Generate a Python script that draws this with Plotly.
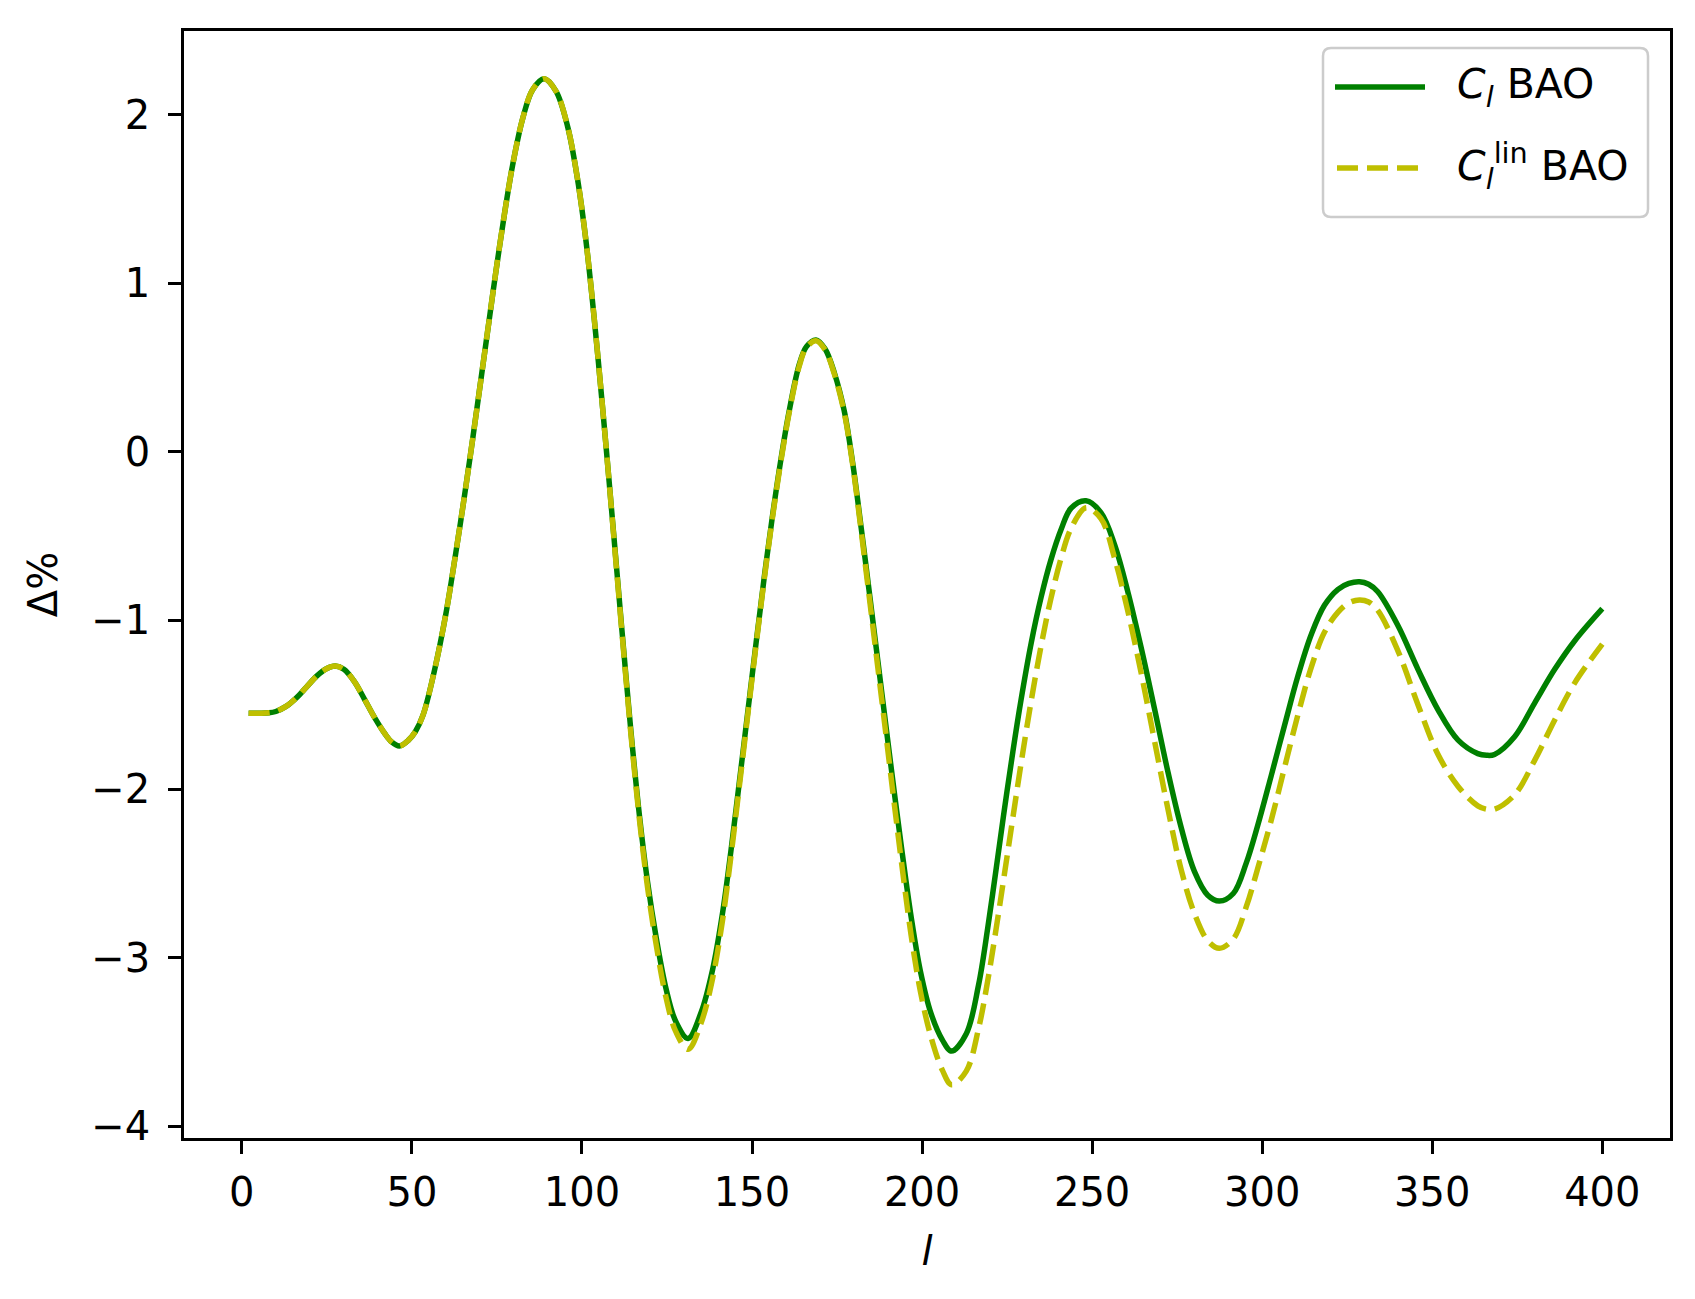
import plotly.graph_objects as go

# multipole values (shared grid)
ell = [2, 5, 8, 10, 13, 16, 19, 22, 25, 27.5,
       30, 33, 36, 39, 42, 44, 46.3, 49, 51, 53.3,
       56.6, 60, 62.9, 65.4, 67.9, 70.3, 72.7, 74.7, 77.2, 79.6,
       82.6, 85.5, 88.9, 92.4, 95.8, 98.7, 101.2, 103.6, 106.1, 108,
       110.5, 112.4, 114.4, 116.9, 119.3, 121.8, 124.7, 127.6, 131.2, 135,
       138.4, 141.4, 143.8, 146.3, 148.7, 151.2, 153.6, 156.1, 158.5, 161,
       163.9, 166, 168.8, 171.5, 174.2, 177.1, 179.6, 182.1, 184.5, 187,
       189.4, 191.9, 194.3, 196.8, 199.5, 202.6, 206, 208.7, 213, 216.6,
       219.3, 221.8, 224.2, 226.7, 229.1, 232.1, 235, 237.9, 240.9, 243.8,
       248.2, 252.6, 256.6, 260.5, 264.4, 268.3, 272.3, 276.2, 280.1, 284,
       287.4, 291.5, 295.3, 298.7, 302.6, 306.6, 310.5, 314.4, 318.3, 322.3,
       325.5, 328.6, 331.3, 334, 339.9, 345.8, 351.7, 357.6, 363.4, 366,
       368.3, 374.2, 380.1, 386, 391.9, 400]

cl_bao = [-1.55, -1.55, -1.548, -1.54, -1.51, -1.46, -1.395, -1.33, -1.285, -1.27,
          -1.29, -1.36, -1.465, -1.575, -1.67, -1.72, -1.745, -1.71, -1.66, -1.56,
          -1.30, -0.96, -0.60, -0.27, 0.08, 0.43, 0.78, 1.07, 1.41, 1.70,
          1.98, 2.15, 2.215, 2.14, 1.93, 1.62, 1.25, 0.794, 0.256, -0.177,
          -0.762, -1.207, -1.657, -2.157, -2.553, -2.878, -3.183, -3.38, -3.48, -3.328,
          -3.073, -2.728, -2.368, -1.955, -1.552, -1.132, -0.743, -0.368, -0.044, 0.25,
          0.52, 0.625, 0.665, 0.611, 0.47, 0.245, -0.065, -0.45, -0.835, -1.24,
          -1.63, -2.03, -2.40, -2.76, -3.08, -3.33, -3.49, -3.555, -3.452, -3.164,
          -2.826, -2.471, -2.123, -1.778, -1.471, -1.132, -0.862, -0.639, -0.459, -0.334,
          -0.29, -0.36, -0.55, -0.83, -1.16, -1.52, -1.90, -2.23, -2.49, -2.63,
          -2.665, -2.62, -2.44, -2.215, -1.925, -1.62, -1.33, -1.085, -0.91, -0.815,
          -0.78, -0.77, -0.785, -0.83, -1.03, -1.29, -1.53, -1.71, -1.79, -1.80,
          -1.795, -1.69, -1.49, -1.29, -1.12, -0.93]

cl_lin_bao = [-1.55, -1.55, -1.548, -1.54, -1.51, -1.46, -1.395, -1.33, -1.285, -1.27,
              -1.29, -1.36, -1.465, -1.575, -1.67, -1.72, -1.745, -1.71, -1.66, -1.56,
              -1.30, -0.96, -0.60, -0.27, 0.08, 0.43, 0.78, 1.07, 1.41, 1.70,
              1.98, 2.15, 2.215, 2.14, 1.93, 1.62, 1.25, 0.794, 0.256, -0.18,
              -0.775, -1.22, -1.675, -2.18, -2.585, -2.92, -3.235, -3.44, -3.545, -3.39,
              -3.125, -2.77, -2.40, -1.98, -1.57, -1.145, -0.755, -0.378, -0.054, 0.24,
              0.51, 0.62, 0.66, 0.606, 0.463, 0.235, -0.075, -0.47, -0.865, -1.28,
              -1.68, -2.10, -2.49, -2.87, -3.20, -3.47, -3.67, -3.755, -3.674, -3.422,
              -3.138, -2.826, -2.507, -2.17, -1.85, -1.475, -1.15, -0.868, -0.628, -0.454,
              -0.331, -0.395, -0.63, -0.945, -1.31, -1.71, -2.12, -2.48, -2.74, -2.90,
              -2.945, -2.89, -2.70, -2.47, -2.19, -1.87, -1.56, -1.28, -1.07, -0.95,
              -0.895, -0.878, -0.89, -0.94, -1.18, -1.50, -1.795, -1.985, -2.10, -2.12,
              -2.12, -2.035, -1.83, -1.59, -1.37, -1.14]

assert len(ell) == len(cl_bao) == len(cl_lin_bao)

x_ticks = [0, 50, 100, 150, 200, 250, 300, 350, 400]
y_ticks = [-4, -3, -2, -1, 0, 1, 2]

GREEN = "#008000"
YELLOW = "#bfbf00"
FONT = "DejaVu Sans"
FS = 40
LFS = 41
DASH = "21px,9px"

fig = go.Figure()
fig.add_trace(go.Scatter(x=ell, y=cl_bao, mode="lines", name="C_l BAO",
                         line=dict(color=GREEN, width=5.5, shape="spline", smoothing=1.0),
                         showlegend=False))
fig.add_trace(go.Scatter(x=ell, y=cl_lin_bao, mode="lines", name="C_l^lin BAO",
                         line=dict(color=YELLOW, width=5.5, dash=DASH, shape="spline", smoothing=1.0),
                         showlegend=False))

axis_common = dict(showline=True, linecolor="black", linewidth=2.6, mirror=True,
                   ticks="outside", ticklen=13, tickwidth=2.6, tickcolor="black",
                   showgrid=False, zeroline=False,
                   tickfont=dict(family=FONT, size=FS, color="black"))

fig.update_xaxes(range=[-17.0, 419.9], tickvals=x_ticks, ticktext=[str(v) for v in x_ticks],
                 title=dict(text="<i>l</i>", font=dict(family=FONT, size=FS, color="black"),
                            standoff=24),
                 ticklabelstandoff=4, **axis_common)
fig.update_yaxes(range=[-4.071, 2.498], tickvals=y_ticks,
                 ticktext=[("\u2212" + str(-v)) if v < 0 else str(v) for v in y_ticks],
                 title=dict(text="Δ%", font=dict(family=FONT, size=FS, color="black"),
                            standoff=22),
                 ticklabelstandoff=10, **axis_common)

# page is offset by the default 8px body margin, so the figure is 8px smaller
OFF = 8
FW, FH = 1695 - OFF, 1299 - OFF
L, R, T, B = 184 - OFF, 1670 - OFF, 31 - OFF, 1138 - OFF
W, H = R - L, B - T
px = lambda x: (x - OFF - L) / W
py = lambda y: (B - (y - OFF)) / H

# legend (drawn by hand to match the reference frame)
x0, x1, y0, y1 = px(1323), px(1648), py(217), py(48)
rx, ry = 8 / W, 8 / H
path = (f"M {x0+rx},{y1} L {x1-rx},{y1} Q {x1},{y1} {x1},{y1-ry} "
        f"L {x1},{y0+ry} Q {x1},{y0} {x1-rx},{y0} L {x0+rx},{y0} Q {x0},{y0} {x0},{y0+ry} "
        f"L {x0},{y1-ry} Q {x0},{y1} {x0+rx},{y1} Z")
fig.add_shape(type="path", path=path, xref="paper", yref="paper",
              line=dict(color="#cccccc", width=2.5), fillcolor="rgba(255,255,255,0.8)")
fig.add_shape(type="line", xref="paper", yref="paper", x0=px(1335), x1=px(1425),
              y0=py(87), y1=py(87), line=dict(color=GREEN, width=5.5))
fig.add_shape(type="line", xref="paper", yref="paper", x0=px(1337), x1=px(1425),
              y0=py(168), y1=py(168), line=dict(color=YELLOW, width=5.5, dash=DASH))
fig.add_annotation(xref="paper", yref="paper", x=px(1455), y=py(87), xanchor="left",
                   yanchor="middle", showarrow=False,
                   text="<i>C</i><sub><i>l</i></sub> BAO",
                   font=dict(family=FONT, size=LFS, color="black"))
fig.add_annotation(xref="paper", yref="paper", x=px(1455), y=py(166), xanchor="left",
                   yanchor="middle", showarrow=False,
                   text="<i>C</i><sub><i>l</i></sub><sup>lin</sup> BAO",
                   font=dict(family=FONT, size=LFS, color="black"))

fig.update_layout(width=FW, height=FH, margin=dict(l=L, r=FW - R, t=T, b=FH - B),
                  paper_bgcolor="white", plot_bgcolor="white", showlegend=False,
                  font=dict(family=FONT, size=FS, color="black"))

fig.write_html("out.html")
